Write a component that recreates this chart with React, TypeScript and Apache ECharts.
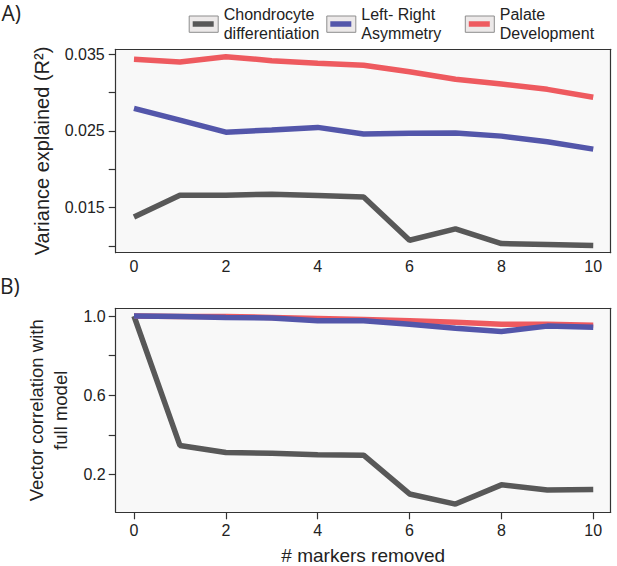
import React, { useEffect, useRef } from "react";
import * as echarts from "echarts";

const X_VALUES = [0, 1, 2, 3, 4, 5, 6, 7, 8, 9, 10];
const SERIES_NAMES = ["Chondrocyte differentiation", "Left- Right Asymmetry", "Palate Development"];
const LEGEND_LINES = ["Chondrocyte\ndifferentiation", "Left- Right\nAsymmetry", "Palate\nDevelopment"];
const COLORS = ["#585858", "#5356aa", "#ee5a5f"];

// Panel A: variance explained (R²)
const A_CHONDRO = [0.0138, 0.01663, 0.01663, 0.01676, 0.01659, 0.01641, 0.01076, 0.01223, 0.01032, 0.01019, 0.01006];
const A_LEFTRIGHT = [0.02795, 0.02642, 0.02485, 0.02512, 0.02547, 0.0246, 0.02469, 0.02473, 0.02433, 0.02359, 0.02264];
const A_PALATE = [0.03435, 0.034, 0.03469, 0.03417, 0.03382, 0.03356, 0.03273, 0.03174, 0.03112, 0.03043, 0.02939];

// Panel B: vector correlation with full model
const B_CHONDRO = [1.0, 0.347, 0.311, 0.308, 0.3, 0.298, 0.102, 0.051, 0.148, 0.122, 0.124];
const B_LEFTRIGHT = [1.0, 0.997, 0.993, 0.99, 0.976, 0.976, 0.958, 0.938, 0.922, 0.949, 0.943];
const B_PALATE = [1.0, 0.998, 0.997, 0.993, 0.988, 0.983, 0.976, 0.968, 0.958, 0.958, 0.954];

const X_TICKS = [0, 2, 4, 6, 8, 10];
const A_Y_TICKS = [0.01, 0.015, 0.02, 0.025, 0.03, 0.035];
const A_Y_LABELS = [0.015, 0.025, 0.035];
const B_Y_TICKS = [0.2, 0.4, 0.6, 0.8, 1.0];
const B_Y_LABELS = [0.2, 0.6, 1.0];

const FONT = "Liberation Sans";
const X_MIN = -0.398;
const X_MAX = 10.38;
const A_Y_MIN = 0.009133;
const A_Y_MAX = 0.03565;
const B_Y_MIN = 0.0095;
const B_Y_MAX = 1.0389;

export default function App() {
  const ref = useRef<HTMLDivElement>(null);

  useEffect(() => {
    document.body.style.margin = "0";
    if (!ref.current) return;
    const chart = echarts.init(ref.current, null, { renderer: "svg" });

    const pairs = (vals: number[]) => X_VALUES.map((x, i) => [x, vals[i]]);
    const barLefts = [192.7, 330.3, 468.8];
    const borderLine = { show: true, onZero: false, lineStyle: { color: "#333", width: 1.2 } };

    const xAxisBase = (gridIndex: number, ticks: boolean) => ({
      type: "value",
      gridIndex,
      min: X_MIN,
      max: X_MAX,
      position: "bottom",
      axisLine: borderLine,
      splitLine: { show: false },
      axisTick: {
        show: ticks,
        length: 7,
        customValues: X_TICKS,
        lineStyle: { color: "#333", width: 1.2 },
      },
      axisLabel: {
        customValues: X_TICKS,
        margin: ticks ? 10 : 6,
        fontFamily: FONT,
        fontSize: 16,
        color: "#222",
      },
    });

    const frameAxis = (kind: "x" | "y", gridIndex: number, min: number, max: number) => ({
      type: "value",
      gridIndex,
      min,
      max,
      position: kind === "x" ? "top" : "right",
      axisLine: borderLine,
      axisTick: { show: false },
      axisLabel: { show: false },
      splitLine: { show: false },
    });

    const lineSeries = (name: string, color: string, data: number[][], idx: number) => ({
      type: "line",
      name,
      xAxisIndex: idx,
      yAxisIndex: idx,
      data,
      showSymbol: false,
      symbol: "none",
      lineStyle: { color, width: 5.5 },
      itemStyle: { color },
      z: 2,
    });

    const option: any = {
      animation: false,
      backgroundColor: "#ffffff",
      legend: SERIES_NAMES.map((name, i) => ({
        data: [name],
        left: barLefts[i],
        top: 2,
        padding: 0,
        icon: "rect",
        itemWidth: 21,
        itemHeight: 5.5,
        selectedMode: false,
        formatter: () => LEGEND_LINES[i],
        textStyle: {
          fontFamily: FONT,
          fontSize: 16,
          color: "#222",
          lineHeight: 19,
          padding: [0, 0, 6, 5],
        },
      })),
      graphic: [
        ...barLefts.map((bl) => ({
          type: "rect",
          shape: { x: bl - 3.5, y: 16, width: 29, height: 16.3 },
          style: { fill: "#ece9e9", stroke: "#8d8d8d", lineWidth: 1 },
          z: 0,
        })),
        {
          type: "text",
          left: 1.5,
          top: 2,
          style: { text: "A)", fontFamily: "Open Sans", fontSize: 21, fill: "#222" },
        },
        {
          type: "text",
          left: 0,
          top: 275,
          style: { text: "B)", fontFamily: "Open Sans", fontSize: 21, fill: "#222" },
        },
      ],
      grid: [
        {
          left: 115.7,
          top: 49.3,
          width: 495,
          height: 203.4,
          show: true,
          outerBoundsMode: "none",
          containLabel: false,
          backgroundColor: "#f8f8f8",
          borderColor: "#333",
          borderWidth: 0,
        },
        {
          left: 115.7,
          top: 308.3,
          width: 495,
          height: 204,
          show: true,
          outerBoundsMode: "none",
          containLabel: false,
          backgroundColor: "#f8f8f8",
          borderColor: "#333",
          borderWidth: 0,
        },
      ],
      xAxis: [
        xAxisBase(0, false),
        {
          ...xAxisBase(1, true),
          name: "# markers removed",
          nameLocation: "middle",
          nameGap: 50.5,
          nameTextStyle: {
            fontFamily: FONT,
            fontSize: 19,
            color: "#222",
            lineHeight: 15,
            verticalAlign: "bottom",
          },
        },
        frameAxis("x", 0, X_MIN, X_MAX),
        frameAxis("x", 1, X_MIN, X_MAX),
      ],
      yAxis: [
        {
          type: "value",
          gridIndex: 0,
          min: A_Y_MIN,
          max: A_Y_MAX,
          position: "left",
          axisLine: borderLine,
          splitLine: { show: false },
          axisTick: { show: true, length: 7, customValues: A_Y_TICKS, lineStyle: { color: "#333", width: 1.2 } },
          axisLabel: {
            customValues: A_Y_LABELS,
            formatter: (v: number) => v.toFixed(3),
            margin: 11,
            fontFamily: FONT,
            fontSize: 16,
            color: "#222",
          },
          name: "Variance explained (R²)",
          nameLocation: "middle",
          nameGap: 64,
          nameTextStyle: { fontFamily: FONT, fontSize: 20, color: "#222" },
        },
        {
          type: "value",
          gridIndex: 1,
          min: B_Y_MIN,
          max: B_Y_MAX,
          position: "left",
          axisLine: borderLine,
          splitLine: { show: false },
          axisTick: { show: true, length: 7, customValues: B_Y_TICKS, lineStyle: { color: "#333", width: 1.2 } },
          axisLabel: {
            customValues: B_Y_LABELS,
            formatter: (v: number) => v.toFixed(1),
            margin: 10,
            fontFamily: FONT,
            fontSize: 16,
            color: "#222",
          },
          name: "Vector correlation with\nfull model",
          nameLocation: "middle",
          nameGap: 42,
          nameTextStyle: { fontFamily: FONT, fontSize: 18.5, color: "#222", lineHeight: 24 },
        },
        frameAxis("y", 0, A_Y_MIN, A_Y_MAX),
        frameAxis("y", 1, B_Y_MIN, B_Y_MAX),
      ],
      series: [
        lineSeries(SERIES_NAMES[0], COLORS[0], pairs(A_CHONDRO), 0),
        lineSeries(SERIES_NAMES[2], COLORS[2], pairs(A_PALATE), 0),
        lineSeries(SERIES_NAMES[1], COLORS[1], pairs(A_LEFTRIGHT), 0),
        lineSeries(SERIES_NAMES[0], COLORS[0], pairs(B_CHONDRO), 1),
        lineSeries(SERIES_NAMES[2], COLORS[2], pairs(B_PALATE), 1),
        lineSeries(SERIES_NAMES[1], COLORS[1], pairs(B_LEFTRIGHT), 1),
      ],
    };

    chart.setOption(option);
    return () => chart.dispose();
  }, []);

  return <div ref={ref} style={{ width: 617, height: 566 }} />;
}
